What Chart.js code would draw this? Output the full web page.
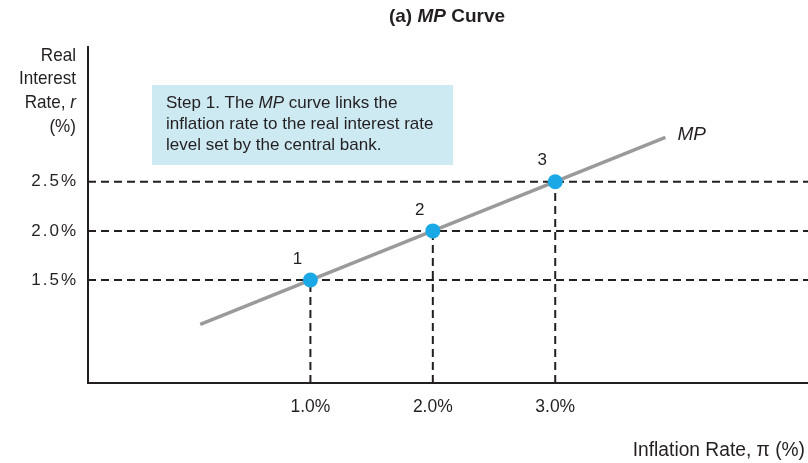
<!DOCTYPE html>
<html>
<head>
<meta charset="utf-8">
<script src="https://cdn.jsdelivr.net/npm/chart.js@4.4.1/dist/chart.umd.min.js"></script>
<style>
  html, body { margin: 0; padding: 0; background: #fff; }
  #wrap { width: 808px; height: 463px; }
</style>
</head>
<body>
<div id="wrap"><canvas id="mpChart" width="808" height="463"></canvas></div>
<script>
// Data
const inflation = [1.0, 2.0, 3.0];
const realRate = [1.5, 2.0, 2.5];
const pointNames = ['1', '2', '3'];
const mpX = [0.1, 3.9];
const mpY = [1.05, 2.95];
const xTickValues = [1.0, 2.0, 3.0];
const yTickValues = [1.5, 2.0, 2.5];

const xMin = -0.817, xMax = 5.065;
const yMin = 0.453, yMax = 3.87;

const font = '"Liberation Sans", Arial, sans-serif';
const ink = '#231f20';

// dashed guide lines: horizontal to the right edge, vertical down to the axis
const guideSets = [];
realRate.forEach(function (r) {
    guideSets.push({
        type: 'line',
        data: [{ x: xMin, y: r }, { x: xMax, y: r }],
        borderColor: ink, borderWidth: 2, borderDash: [8, 5],
        pointRadius: 0, order: 3
    });
});
inflation.forEach(function (p, i) {
    guideSets.push({
        type: 'line',
        data: [{ x: p, y: yMin }, { x: p, y: realRate[i] }],
        borderColor: ink, borderWidth: 2, borderDash: [8, 5],
        pointRadius: 0, order: 3
    });
});

// draw a run of [text, style] parts squeezed horizontally by sx
function drawParts(ctx, parts, x, y, size, align, sx) {
    let total = 0;
    parts.forEach(function (p) {
        ctx.font = p[1] + ' ' + size + 'px ' + font;
        total += ctx.measureText(p[0]).width;
    });
    total *= sx;
    let start = align === 'right' ? x - total : align === 'center' ? x - total / 2 : x;
    ctx.save();
    ctx.translate(start, y);
    ctx.scale(sx, 1);
    ctx.textAlign = 'left';
    let cx = 0;
    parts.forEach(function (p) {
        ctx.font = p[1] + ' ' + size + 'px ' + font;
        ctx.fillText(p[0], cx, 0);
        cx += ctx.measureText(p[0]).width;
    });
    ctx.restore();
}

// text labels drawn on the canvas
const labelsPlugin = {
    id: 'mpLabels',
    afterDatasetsDraw: function (chart) {
        const ctx = chart.ctx;
        const xs = chart.scales.x, ys = chart.scales.y;
        ctx.save();
        ctx.fillStyle = ink;
        ctx.textBaseline = 'middle';

        // title
        drawParts(ctx, [['(a) ', 'bold'], ['MP', 'italic bold'], [' Curve', 'bold']], 447, 17, 19, 'center', 1);

        // y axis title
        drawParts(ctx, [['Real', 'normal']], 76, 56, 19, 'right', 0.9);
        drawParts(ctx, [['Interest', 'normal']], 76, 79, 19, 'right', 0.9);
        drawParts(ctx, [['Rate, ', 'normal'], ['r', 'italic']], 76, 103, 19, 'right', 0.9);
        drawParts(ctx, [['(%)', 'normal']], 76, 127, 19, 'right', 0.9);

        // x axis title
        drawParts(ctx, [['Inflation Rate, \u03c0 (%)', 'normal']], 805, 450, 20, 'right', 0.96);

        // y tick labels, widely spaced
        ctx.font = '17px ' + font;
        ctx.textAlign = 'right';
        ctx.letterSpacing = '2px';
        yTickValues.forEach(function (v) {
            ctx.fillText(v.toFixed(1) + '%', 78, ys.getPixelForValue(v));
        });
        ctx.letterSpacing = '0px';

        // explanation box
        ctx.fillStyle = '#cde9f2';
        ctx.fillRect(152, 85, 301, 80);
        ctx.fillStyle = ink;
        drawParts(ctx, [['Step 1. The ', 'normal'], ['MP', 'italic'], [' curve links the', 'normal']], 166, 103, 17, 'left', 1);
        drawParts(ctx, [['inflation rate to the real interest rate', 'normal']], 166, 124, 17, 'left', 1);
        drawParts(ctx, [['level set by the central bank.', 'normal']], 166, 145, 17, 'left', 1);

        // MP curve label
        drawParts(ctx, [['MP', 'italic']], xs.getPixelForValue(mpX[1]) + 12, ys.getPixelForValue(mpY[1]) - 3, 19, 'left', 1);

        // point numbers
        inflation.forEach(function (p, i) {
            drawParts(ctx, [[pointNames[i], 'normal']], xs.getPixelForValue(p) - 13, ys.getPixelForValue(realRate[i]) - 21, 17, 'center', 1);
        });
        ctx.restore();
    }
};

new Chart(document.getElementById('mpChart'), {
    type: 'scatter',
    data: {
        datasets: [
            {
                type: 'scatter',
                data: inflation.map(function (p, i) { return { x: p, y: realRate[i] }; }),
                backgroundColor: '#1aa9e6',
                borderWidth: 0,
                pointRadius: 7.5,
                order: 0
            },
            {
                type: 'line',
                data: mpX.map(function (x, i) { return { x: x, y: mpY[i] }; }),
                borderColor: '#9a9a9a',
                borderWidth: 3.5,
                pointRadius: 0,
                order: 1
            }
        ].concat(guideSets)
    },
    options: {
        responsive: false,
        animation: false,
        layout: { autoPadding: false, padding: { top: 47, right: 0, bottom: 0, left: 0 } },
        plugins: {
            legend: { display: false },
            tooltip: { enabled: false }
        },
        scales: {
            x: {
                type: 'linear',
                min: xMin,
                max: xMax,
                afterBuildTicks: function (s) { s.ticks = xTickValues.map(function (v) { return { value: v }; }); },
                afterFit: function (s) { s.height = 80; s.paddingLeft = 0; s.paddingRight = 0; },
                grid: { display: false, drawTicks: false },
                border: { display: true, color: ink, width: 2 },
                ticks: {
                    padding: 14,
                    color: ink,
                    font: { family: font, size: 17.5 },
                    callback: function (v) { return v.toFixed(1) + '%'; }
                }
            },
            y: {
                type: 'linear',
                min: yMin,
                max: yMax,
                afterBuildTicks: function (s) { s.ticks = yTickValues.map(function (v) { return { value: v }; }); },
                afterFit: function (s) { s.width = 88; s.paddingTop = 0; s.paddingBottom = 0; },
                grid: { display: false, drawTicks: false },
                border: { display: true, color: ink, width: 2 },
                ticks: { display: false }
            }
        }
    },
    plugins: [labelsPlugin]
});
</script>
</body>
</html>
